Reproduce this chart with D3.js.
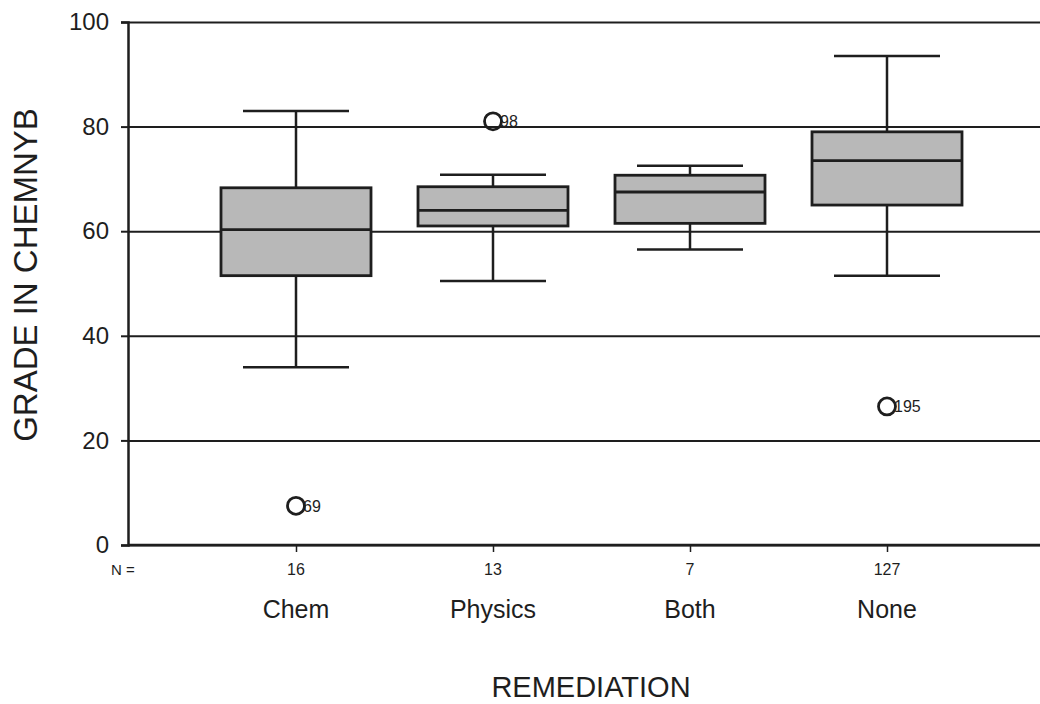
<!DOCTYPE html>
<html>
<head>
<meta charset="utf-8">
<script src="https://cdn.jsdelivr.net/npm/d3@7"></script>
<style>
  body { margin: 0; background: #fff; }
  svg { display: block; font-family: "Liberation Sans", Arial, sans-serif; }
</style>
</head>
<body>
<svg id="chart" width="1040" height="704"></svg>
<script>
// values
const categories = ["Chem", "Physics", "Both", "None"];
const counts = [16, 13, 7, 127];
const whiskerLow = [34, 50.5, 56.5, 51.5];
const q1 = [51.5, 61, 61.5, 65];
const median = [60.3, 64, 67.5, 73.5];
const q3 = [68.3, 68.5, 70.7, 79];
const whiskerHigh = [83, 70.8, 72.5, 93.5];
const outlierCats = ["Chem", "Physics", "None"];
const outlierValues = [7.5, 81, 26.5];
const outlierIds = ["69", "98", "195"];
const yTicks = [0, 20, 40, 60, 80, 100];

const svg = d3.select("#chart");
const plotLeft = 128, plotRight = 1045, plotTop = 22, plotBottom = 545;
const ink = "#1e1e1e";

const y = d3.scaleLinear().domain([0, 100]).range([plotBottom, plotTop]);
const x = d3.scalePoint().domain(categories).range([296, 887]);

const boxHalf = 75, capHalf = 53;

// gridlines (drawn at every tick, full width)
svg.append("g")
    .attr("transform", `translate(${plotLeft},0)`)
    .call(d3.axisLeft(y).tickValues(yTicks).tickSize(-(plotRight - plotLeft)).tickFormat(""))
    .call(g => g.select(".domain").remove())
    .call(g => g.selectAll("line").attr("stroke", ink).attr("stroke-width", 2));

// y axis with labels
const yAxis = svg.append("g")
    .attr("transform", `translate(${plotLeft},0)`)
    .call(d3.axisLeft(y).tickValues(yTicks).tickSize(7).tickPadding(12));
yAxis.select(".domain").attr("stroke", ink).attr("stroke-width", 2.5);
yAxis.selectAll("line").attr("stroke", ink).attr("stroke-width", 2);
yAxis.selectAll("text")
    .attr("font-size", 24)
    .attr("fill", ink)
    .attr("font-family", "Liberation Sans, Arial, sans-serif");

// x axis line and category ticks
const xAxis = svg.append("g")
    .attr("transform", `translate(0,${plotBottom})`)
    .call(d3.axisBottom(x).tickSize(7).tickFormat(""));
xAxis.select(".domain").attr("d", `M${plotLeft},0H${plotRight}`).attr("stroke", ink).attr("stroke-width", 2.5);
xAxis.selectAll("line").attr("stroke", ink).attr("stroke-width", 1.5);

// boxes
const boxes = svg.append("g");
categories.forEach((c, i) => {
    const cx = x(c);
    const g = boxes.append("g");
    g.append("line")
        .attr("x1", cx).attr("x2", cx)
        .attr("y1", y(whiskerLow[i])).attr("y2", y(whiskerHigh[i]))
        .attr("stroke", ink).attr("stroke-width", 2.5);
    [whiskerLow[i], whiskerHigh[i]].forEach(v => {
        g.append("line")
            .attr("x1", cx - capHalf).attr("x2", cx + capHalf)
            .attr("y1", y(v)).attr("y2", y(v))
            .attr("stroke", ink).attr("stroke-width", 2.5);
    });
    g.append("rect")
        .attr("x", cx - boxHalf).attr("width", boxHalf * 2)
        .attr("y", y(q3[i])).attr("height", y(q1[i]) - y(q3[i]))
        .attr("fill", "#b8b8b8")
        .attr("stroke", ink).attr("stroke-width", 2.8);
    g.append("line")
        .attr("x1", cx - boxHalf).attr("x2", cx + boxHalf)
        .attr("y1", y(median[i])).attr("y2", y(median[i]))
        .attr("stroke", ink).attr("stroke-width", 2.8);
});

// outliers
outlierCats.forEach((c, i) => {
    const cx = x(c), cy = y(outlierValues[i]);
    svg.append("circle")
        .attr("cx", cx).attr("cy", cy).attr("r", 8.5)
        .attr("fill", "none").attr("stroke", ink).attr("stroke-width", 2.8);
    svg.append("text")
        .attr("x", cx + 7).attr("y", cy + 6)
        .attr("font-size", 16).attr("fill", ink)
        .text(outlierIds[i]);
});

// N counts
svg.append("text")
    .attr("x", 111).attr("y", 575)
    .attr("font-size", 15).attr("fill", ink)
    .text("N =");
categories.forEach((c, i) => {
    svg.append("text")
        .attr("x", x(c)).attr("y", 575)
        .attr("text-anchor", "middle")
        .attr("font-size", 16).attr("fill", ink)
        .text(counts[i]);
    svg.append("text")
        .attr("x", x(c)).attr("y", 618)
        .attr("text-anchor", "middle")
        .attr("font-size", 25).attr("fill", ink)
        .text(c);
});

// axis titles
svg.append("text")
    .attr("x", 591).attr("y", 697)
    .attr("text-anchor", "middle")
    .attr("font-size", 29).attr("fill", ink)
    .text("REMEDIATION");

svg.append("text")
    .attr("transform", `translate(37,275) rotate(-90)`)
    .attr("text-anchor", "middle")
    .attr("font-size", 33).attr("fill", ink)
    .text("GRADE IN CHEMNYB");
</script>
</body>
</html>
